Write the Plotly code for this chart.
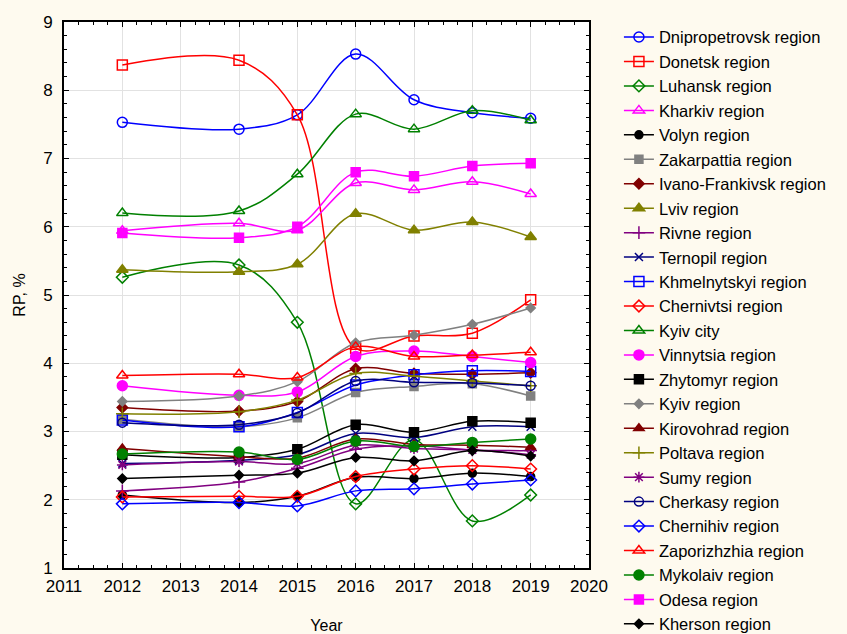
import plotly.graph_objs as go

YEARS = [2012, 2014, 2015, 2016, 2017, 2018, 2019]

# RP, % by region
dnipropetrovsk = [7.53, 7.43, 7.64, 8.53, 7.86, 7.67, 7.59]
donetsk = [8.37, 8.44, 7.64, 4.22, 4.40, 4.44, 4.93]
luhansk = [5.26, 5.44, 4.60, 1.94, 2.88, 1.69, 2.07]
kharkiv = [5.94, 6.05, 5.95, 6.64, 6.54, 6.66, 6.48]
volyn = [2.07, 1.96, 2.05, 2.33, 2.31, 2.39, 2.34]
zakarpattia = [3.18, 3.07, 3.20, 3.57, 3.66, 3.70, 3.52]
ivano_frankivsk = [3.35, 3.30, 3.44, 3.92, 3.85, 3.84, 3.86]
lviv = [5.37, 5.34, 5.45, 6.19, 5.95, 6.07, 5.85]
rivne = [2.13, 2.26, 2.46, 2.74, 2.79, 2.73, 2.72]
ternopil = [2.53, 2.58, 2.66, 2.97, 2.91, 3.07, 3.07]
khmelnytskyi = [3.17, 3.07, 3.28, 3.68, 3.83, 3.89, 3.88]
chernivtsi = [2.04, 2.05, 2.05, 2.34, 2.45, 2.50, 2.45]
kyiv_city = [6.20, 6.23, 6.77, 7.65, 7.43, 7.70, 7.56]
vinnytsia = [3.67, 3.53, 3.58, 4.10, 4.18, 4.10, 4.01]
zhytomyr = [2.66, 2.62, 2.74, 3.10, 2.99, 3.15, 3.13]
kyiv_region = [3.44, 3.52, 3.73, 4.30, 4.41, 4.57, 4.81]
kirovohrad = [2.75, 2.63, 2.61, 2.89, 2.81, 2.80, 2.77]
poltava = [3.26, 3.29, 3.46, 3.85, 3.81, 3.74, 3.67]
sumy = [2.51, 2.56, 2.53, 2.80, 2.75, 2.73, 2.66]
cherkasy = [3.13, 3.10, 3.27, 3.74, 3.72, 3.71, 3.67]
chernihiv = [1.94, 1.96, 1.91, 2.13, 2.16, 2.23, 2.29]
zaporizhzhia = [3.82, 3.84, 3.79, 4.24, 4.10, 4.12, 4.16]
mykolaiv = [2.67, 2.70, 2.59, 2.86, 2.78, 2.84, 2.89]
odesa = [5.91, 5.84, 6.00, 6.80, 6.74, 6.89, 6.93]
kherson = [2.31, 2.36, 2.39, 2.62, 2.57, 2.72, 2.64]

# name, values, colour, marker symbol, marker size
SERIES = [
    ("Dnipropetrovsk region", dnipropetrovsk, "#0000FF", "circle-open", 10),
    ("Donetsk region", donetsk, "#FF0000", "square-open", 10),
    ("Luhansk region", luhansk, "#008000", "diamond-open", 9),
    ("Kharkiv region", kharkiv, "#FF00FF", "triangle-up-open", 10),
    ("Volyn region", volyn, "#000000", "circle", 8),
    ("Zakarpattia region", zakarpattia, "#808080", "square", 8),
    ("Ivano-Frankivsk region", ivano_frankivsk, "#800000", "diamond", 8),
    ("Lviv region", lviv, "#808000", "triangle-up", 10),
    ("Rivne region", rivne, "#800080", "cross-thin", 9),
    ("Ternopil region", ternopil, "#000080", "x-thin", 8),
    ("Khmelnytskyi region", khmelnytskyi, "#0000FF", "square-open", 10),
    ("Chernivtsi region", chernivtsi, "#FF0000", "diamond-open", 9),
    ("Kyiv city", kyiv_city, "#008000", "triangle-up-open", 10),
    ("Vinnytsia region", vinnytsia, "#FF00FF", "circle", 10),
    ("Zhytomyr region", zhytomyr, "#000000", "square", 9),
    ("Kyiv region", kyiv_region, "#808080", "diamond", 7),
    ("Kirovohrad region", kirovohrad, "#800000", "triangle-up", 9),
    ("Poltava region", poltava, "#808000", "cross-thin", 9),
    ("Sumy region", sumy, "#800080", "asterisk", 9),
    ("Cherkasy region", cherkasy, "#000080", "circle-open", 9),
    ("Chernihiv region", chernihiv, "#0000FF", "diamond-open", 9),
    ("Zaporizhzhia region", zaporizhzhia, "#FF0000", "triangle-up-open", 10),
    ("Mykolaiv region", mykolaiv, "#008000", "circle", 10),
    ("Odesa region", odesa, "#FF00FF", "square", 9),
    ("Kherson region", kherson, "#000000", "diamond", 7),
]

FONT = "Liberation Sans, Arial, sans-serif"

fig = go.Figure()
for name, vals, col, sym, size in SERIES:
    fig.add_trace(go.Scatter(
        x=YEARS, y=vals, name=name, mode="lines+markers",
        line=dict(color=col, width=1.5, shape="spline", smoothing=1.0),
        marker=dict(symbol=sym, size=size, color=col,
                    line=dict(color=col, width=1.5)),
    ))

axis_common = dict(
    showline=True, linecolor="black", linewidth=2, mirror="ticks",
    ticks="inside", ticklen=5, tickcolor="black",
    showgrid=True, gridcolor="#E2E2E2", gridwidth=1,
    zeroline=False, automargin=False,
    tickfont=dict(size=17, color="black", family=FONT),
)

fig.update_xaxes(range=[2011, 2020], dtick=1, tick0=2011,
                 title=dict(text="Year", font=dict(size=16, color="black", family=FONT), standoff=24),
                 minor=dict(ticks="inside", ticklen=3, dtick=0.25, tickcolor="black", showgrid=False),
                 ticklabelstandoff=2,
                 **axis_common)
fig.update_yaxes(range=[1, 9], dtick=1,
                 title=dict(text="RP, %", font=dict(size=16, color="black", family=FONT), standoff=14),
                 minor=dict(ticks="inside", ticklen=3, dtick=0.2, tickcolor="black", showgrid=False),
                 ticklabelstandoff=6,
                 **axis_common)

fig.update_layout(
    width=847, height=634,
    margin=dict(l=64, r=258, t=22, b=66, autoexpand=False),
    paper_bgcolor="#FEFAEF", plot_bgcolor="white",
    font=dict(family=FONT, color="black"),
    legend=dict(x=1.057, y=1.004, xanchor="left", yanchor="top",
                font=dict(size=16.5, family=FONT, color="black"),
                bgcolor="rgba(0,0,0,0)", tracegroupgap=0,
                itemwidth=30, maxheight=700),
)

# drop the page's default body margin so the figure sits at the window corner
fig.write_html("out.html", config={"displayModeBar": False},
               post_script="document.body.style.margin='0';")
